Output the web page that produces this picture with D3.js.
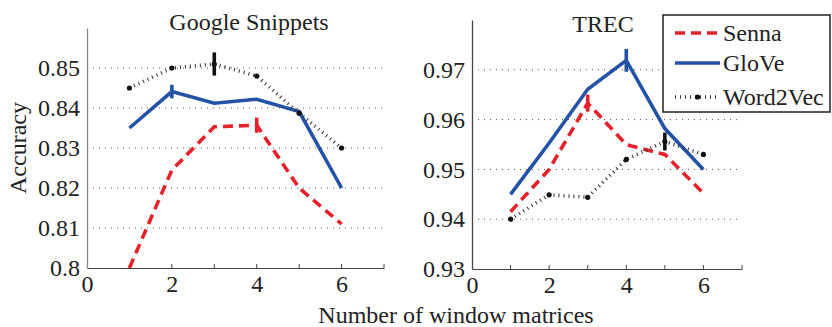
<!DOCTYPE html>
<html>
<head>
<meta charset="utf-8">
<script src="https://cdn.jsdelivr.net/npm/d3@7"></script>
<style>
  body { margin: 0; background: #fff; }
  svg text { font-family: "Liberation Serif", "Times New Roman", Times, "DejaVu Serif", serif !important; fill: #222; }
</style>
</head>
<body>
<div id="chart"></div>
<script>
// window sizes on the x axis
var windows = [1, 2, 3, 4, 5, 6];
var seriesNames = ["Senna", "GloVe", "Word2Vec"];

// Google Snippets accuracy
var gsSenna    = [0.800, 0.8245, 0.8353, 0.8357, 0.820, 0.811];
var gsGlove    = [0.835, 0.8441, 0.8412, 0.8422, 0.8391, 0.820];
var gsWord2vec = [0.845, 0.850, 0.851, 0.848, 0.8387, 0.830];
// half length of error bars (0 = none)
var gsSennaErr    = [0, 0, 0, 0.0019, 0, 0];
var gsGloveErr    = [0, 0.0017, 0, 0, 0, 0];
var gsWord2vecErr = [0, 0, 0.0029, 0, 0, 0];
var gsTicks = [0.8, 0.81, 0.82, 0.83, 0.84, 0.85];

// TREC accuracy
var trecSenna    = [0.9415, 0.950, 0.9633, 0.955, 0.953, 0.9452];
var trecGlove    = [0.945, 0.9553, 0.9661, 0.9719, 0.9582, 0.950];
var trecWord2vec = [0.940, 0.9449, 0.9444, 0.952, 0.9556, 0.953];
var trecSennaErr    = [0, 0, 0.0017, 0, 0, 0];
var trecGloveErr    = [0, 0, 0, 0.0023, 0, 0];
var trecWord2vecErr = [0, 0, 0, 0, 0.0018, 0];
var trecTicks = [0.93, 0.94, 0.95, 0.96, 0.97];

var xTicks = [0, 2, 4, 6];

var width = 832, height = 327;
var fontSize = 24;
var serif = "'Liberation Serif', 'Times New Roman', Times, 'DejaVu Serif', serif";

var styles = {
  "Senna":    { color: "#e5222b", width: 3.6, dash: "10,6" },
  "GloVe":    { color: "#2453a5", width: 3.6, dash: null },
  "Word2Vec": { color: "#333333", width: 3.6, dash: "1,4" }
};

var svg = d3.select("#chart").append("svg")
    .attr("width", width)
    .attr("height", height)
    .attr("font-family", serif);

function drawPanel(cfg) {
  var xScale = d3.scaleLinear().domain([0, 7]).range([cfg.left, cfg.right]);
  var yScale = d3.scaleLinear().domain(cfg.yDomain).range([cfg.bottom, cfg.top]);

  var g = svg.append("g");

  // dotted grid
  g.selectAll(".grid")
    .data(cfg.yTicks.slice(1))
    .enter().append("line")
      .attr("x1", xScale(0))
      .attr("x2", xScale(7))
      .attr("y1", function(d) { return yScale(d); })
      .attr("y2", function(d) { return yScale(d); })
      .attr("stroke", "#555")
      .attr("stroke-width", 1)
      .attr("stroke-dasharray", "1,5");

  // axes
  var xAxis = d3.axisBottom(xScale).tickValues(xTicks).tickSize(0).tickPadding(7).tickFormat(d3.format("d"));
  var gx = g.append("g")
      .attr("transform", "translate(0," + cfg.bottom + ")")
      .call(xAxis)
      .attr("font-family", serif)
      .attr("font-size", fontSize);
  gx.select(".domain").attr("stroke", "#444");
  gx.selectAll("text").attr("fill", "#222");

  // small inside ticks along x axis
  g.selectAll(".xtick")
    .data(d3.range(1, 8))
    .enter().append("line")
      .attr("x1", function(d) { return xScale(d); })
      .attr("x2", function(d) { return xScale(d); })
      .attr("y1", cfg.bottom)
      .attr("y2", cfg.bottom - 4)
      .attr("stroke", "#444");

  var yAxis = d3.axisLeft(yScale).tickValues(cfg.yTicks).tickSize(0).tickPadding(7)
      .tickFormat(function(d) { return String(+d.toFixed(2)); });
  var gy = g.append("g")
      .attr("transform", "translate(" + cfg.left + ",0)")
      .call(yAxis)
      .attr("font-family", serif)
      .attr("font-size", fontSize);
  gy.select(".domain").attr("stroke", cfg.yAxisColor).attr("stroke-width", 1.3);
  gy.selectAll("text").attr("fill", "#222");

  // title
  g.append("text")
    .attr("x", cfg.titleX)
    .attr("y", cfg.titleY)
    .attr("text-anchor", "middle")
    .attr("font-size", fontSize)
    .text(cfg.title);

  var line = d3.line()
    .x(function(d) { return xScale(d.x); })
    .y(function(d) { return yScale(d.y); });

  cfg.series.forEach(function(s) {
    var st = styles[s.name];
    var pts = windows.map(function(w, i) { return { x: w, y: s.values[i], e: s.err[i] }; });

    g.append("path")
      .attr("d", line(pts))
      .attr("fill", "none")
      .attr("stroke", st.color)
      .attr("stroke-width", st.width)
      .attr("stroke-dasharray", st.dash);

    g.selectAll(null)
      .data(pts.filter(function(p) { return p.e > 0; }))
      .enter().append("line")
        .attr("x1", function(p) { return xScale(p.x); })
        .attr("x2", function(p) { return xScale(p.x); })
        .attr("y1", function(p) { return yScale(p.y - p.e); })
        .attr("y2", function(p) { return yScale(p.y + p.e); })
        .attr("stroke", s.name == "Word2Vec" ? "#111" : st.color)
        .attr("stroke-width", 3.6);

    if (s.name == "Word2Vec") {
      g.selectAll(null)
        .data(pts)
        .enter().append("circle")
          .attr("cx", function(p) { return xScale(p.x); })
          .attr("cy", function(p) { return yScale(p.y); })
          .attr("r", 2.6)
          .attr("fill", "#111");
    }
  });
}

drawPanel({
  title: "Google Snippets", titleX: 249, titleY: 30,
  left: 87, right: 384, top: 28, bottom: 268,
  yDomain: [0.8, 0.86], yTicks: gsTicks, yAxisColor: "#888",
  series: [
    { name: "Senna", values: gsSenna, err: gsSennaErr },
    { name: "GloVe", values: gsGlove, err: gsGloveErr },
    { name: "Word2Vec", values: gsWord2vec, err: gsWord2vecErr }
  ]
});

drawPanel({
  title: "TREC", titleX: 603, titleY: 32,
  left: 472, right: 742, top: 20, bottom: 269,
  yDomain: [0.93, 0.98], yTicks: trecTicks, yAxisColor: "#444",
  series: [
    { name: "Senna", values: trecSenna, err: trecSennaErr },
    { name: "GloVe", values: trecGlove, err: trecGloveErr },
    { name: "Word2Vec", values: trecWord2vec, err: trecWord2vecErr }
  ]
});

// axis labels
svg.append("text")
  .attr("x", 456)
  .attr("y", 323)
  .attr("text-anchor", "middle")
  .attr("font-size", fontSize)
  .text("Number of window matrices");

svg.append("text")
  .attr("transform", "translate(26,148) rotate(-90)")
  .attr("text-anchor", "middle")
  .attr("font-size", fontSize)
  .text("Accuracy");

// legend
var legend = svg.append("g").attr("transform", "translate(663,15)");
legend.append("rect")
  .attr("width", 167)
  .attr("height", 97)
  .attr("fill", "#fff")
  .attr("stroke", "#222")
  .attr("stroke-width", 1.5);

var legendY = [18, 48, 82];
seriesNames.forEach(function(name, i) {
  var st = styles[name];
  legend.append("line")
    .attr("x1", 12).attr("x2", 57)
    .attr("y1", legendY[i]).attr("y2", legendY[i])
    .attr("stroke", st.color)
    .attr("stroke-width", st.width)
    .attr("stroke-dasharray", st.dash);
  if (name == "Word2Vec") {
    legend.append("circle").attr("cx", 34.5).attr("cy", legendY[i]).attr("r", 2.6).attr("fill", "#111");
  }
  legend.append("text")
    .attr("x", 60)
    .attr("y", legendY[i])
    .attr("dy", "0.35em")
    .attr("font-size", fontSize)
    .text(name);
});
</script>
</body>
</html>
